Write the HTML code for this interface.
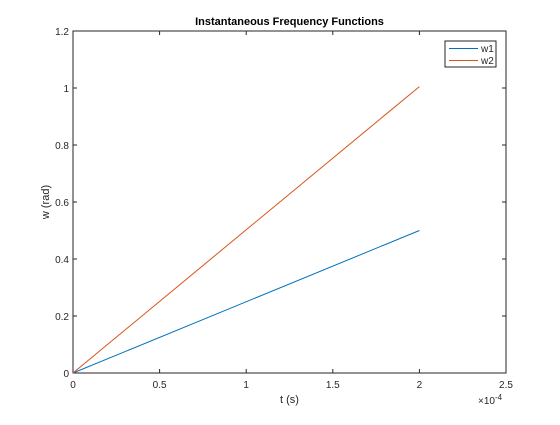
<!DOCTYPE html>
<html><head><meta charset="utf-8"><style>
body{margin:0;background:#fff;font-family:"Liberation Sans",sans-serif}
text{font-family:"Liberation Sans",sans-serif}
</style></head><body>
<svg id="c" width="560" height="420">
<rect width="560" height="420" fill="#fff"/>
</svg>
<script>
const xTicks=[0,0.5,1,1.5,2,2.5];
const yTicks=[0,0.2,0.4,0.6,0.8,1,1.2];
const xTickLabels=["0","0.5","1","1.5","2","2.5"];
const yTickLabels=["0","0.2","0.4","0.6","0.8","1","1.2"];
const tW1=[0,2];
const w1=[0,0.5];
const tW2=[0,2];
const w2=[0,1.005];
const L=73,R=506,T=31,B=373;
const X=v=>L+(v/2.5)*(R-L), Y=v=>B-(v/1.2)*(B-T);
const s=document.getElementById('c');const NS='http://www.w3.org/2000/svg';
function mk(t,a,p){const e=document.createElementNS(NS,t);for(const k in a)e.setAttribute(k,a[k]);(p||s).appendChild(e);return e;}
const ax=mk('rect',{x:L,y:T,width:R-L,height:B-T,fill:'none',stroke:'#262626','stroke-width':1});


xTicks.forEach((v,i)=>{const x=X(v);
mk('line',{x1:x,x2:x,y1:B,y2:B-4,stroke:'#262626'});mk('line',{x1:x,x2:x,y1:T,y2:T+4,stroke:'#262626'});
const t=mk('text',{x:x,y:B+15,'text-anchor':'middle','font-size':10,fill:'#262626'});t.textContent=xTickLabels[i];

});
yTicks.forEach((v,i)=>{const y=Y(v);
mk('line',{x1:L,x2:L+4,y1:y,y2:y,stroke:'#262626'});mk('line',{x1:R,x2:R-4,y1:y,y2:y,stroke:'#262626'});
const t=mk('text',{x:L-4,y:y+4,'text-anchor':'end','font-size':10,fill:'#262626'});t.textContent=yTickLabels[i];

});
function line(tx,ty,c,n){const p=mk('polyline',{points:tx.map((v,i)=>X(v)+','+Y(ty[i])).join(' '),fill:'none',stroke:c,'stroke-width':1});

}
line(tW1,w1,'#0072BD','series-w1');line(tW2,w2,'#D95319','series-w2');
const tt=mk('text',{x:(L+R)/2,y:25,'text-anchor':'middle','font-size':11,'font-weight':'bold',fill:'#000'});tt.textContent='Instantaneous Frequency Functions';


const xl=mk('text',{x:(L+R)/2,y:403,'text-anchor':'middle','font-size':11,fill:'#262626'});xl.textContent='t (s)';


const ex=mk('text',{x:478,y:404,'font-size':10,fill:'#262626'});ex.innerHTML='×10<tspan dy="-4" font-size="8">-4</tspan>';


const yl=mk('text',{x:0,y:0,'text-anchor':'middle','font-size':11,fill:'#262626',transform:'translate(49,'+((T+B)/2)+') rotate(-90)'});yl.textContent='w (rad)';


const lg=mk('g',{});


mk('rect',{x:445,y:41,width:51,height:26,fill:'#fff',stroke:'#262626'},lg);
mk('line',{x1:449,x2:478,y1:48.5,y2:48.5,stroke:'#0072BD'},lg);
mk('line',{x1:449,x2:478,y1:60.5,y2:60.5,stroke:'#D95319'},lg);
const a=mk('text',{x:481,y:52,'font-size':10,fill:'#262626'},lg);a.textContent='w1';
const b=mk('text',{x:481,y:64,'font-size':10,fill:'#262626'},lg);b.textContent='w2';
</script>
</body></html>
